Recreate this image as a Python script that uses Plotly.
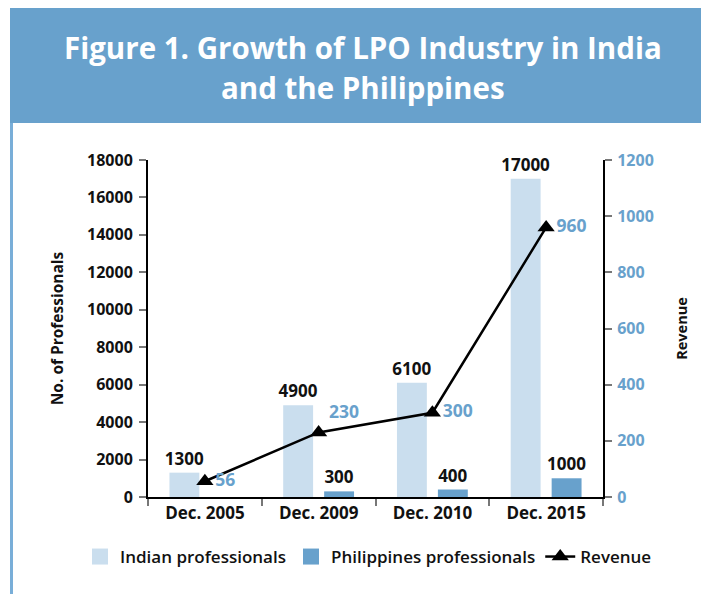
import plotly.graph_objects as go

categories = ["Dec. 2005", "Dec. 2009", "Dec. 2010", "Dec. 2015"]
indian = [1300, 4900, 6100, 17000]
philippines = [None, 300, 400, 1000]
revenue = [56, 230, 300, 960]
left_ticks = [0, 2000, 4000, 6000, 8000, 10000, 12000, 14000, 16000, 18000]
right_ticks = [0, 200, 400, 600, 800, 1000, 1200]

BLUE = "#68a1cc"
LIGHT = "#cadeee"
FONT = "Open Sans"

# page offset (browser body margin)
OFF = 8
W, H = 709 - OFF, 594 - OFF
# plot area in page px
L, R, T, B = 148, 603, 160, 497

def px(x):
    return (x - L) / (R - L)

def py(y):
    return (B - y) / (B - T)

bar_font = dict(family=FONT, size=17, color="#111111", weight="bold")

fig = go.Figure()
fig.add_trace(go.Bar(
    x=categories, y=indian, name="Indian professionals", showlegend=False,
    marker=dict(color=LIGHT, line=dict(width=0)),
    text=[str(v) for v in indian], textposition="outside", constraintext="none",
    textfont=bar_font, cliponaxis=False,
))
fig.add_trace(go.Bar(
    x=categories, y=philippines, name="Philippines professionals", showlegend=False,
    marker=dict(color=BLUE, line=dict(width=0)),
    text=["" if v is None else str(v) for v in philippines], textposition="outside",
    constraintext="none", textfont=bar_font, cliponaxis=False,
))
# legend entries for the bars (square swatches)
for nm, col in [("Indian professionals", LIGHT), ("Philippines professionals", BLUE)]:
    fig.add_trace(go.Scatter(
        x=[None], y=[None], name=nm, mode="markers",
        marker=dict(symbol="square", size=20, color=col),
        showlegend=True, hoverinfo="skip",
    ))
fig.add_trace(go.Scatter(
    x=categories, y=revenue, name="Revenue", yaxis="y2",
    mode="lines+markers+text",
    line=dict(color="black", width=2.5),
    marker=dict(symbol="triangle-up", size=15, color="black"),
    text=[str(v) for v in revenue],
    textposition=["middle right", "top right", "middle right", "middle right"],
    textfont=dict(family=FONT, size=17.5, color=BLUE, weight="bold"),
    cliponaxis=False,
))

shapes = [
    dict(type="rect", xref="paper", yref="paper",
         x0=px(10), x1=px(720), y0=py(123), y1=py(8),
         fillcolor=BLUE, line=dict(width=0), layer="below"),
    dict(type="line", xref="paper", yref="paper",
         x0=px(11.5), x1=px(11.5), y0=py(123), y1=py(600),
         line=dict(color="#79aed8", width=3)),
]

title_font = dict(family=FONT, size=29.5, color="white", weight="bold")
annotations = [
    dict(text="Figure 1. Growth of LPO Industry in India",
         xref="paper", yref="paper", x=px(363), y=py(47), xanchor="center", yanchor="middle",
         showarrow=False, font=title_font),
    dict(text="and the Philippines",
         xref="paper", yref="paper", x=px(363), y=py(88), xanchor="center", yanchor="middle",
         showarrow=False, font=title_font),
]

tick_common = dict(ticks="outside", ticklen=7, tickcolor="#777777", tickwidth=1.5,
                   showline=True, linecolor="black", linewidth=2,
                   showgrid=False, zeroline=False)

fig.update_layout(
    width=W, height=H,
    margin=dict(l=L - OFF, r=W - (R - OFF), t=T - OFF, b=H - (B - OFF), autoexpand=False),
    paper_bgcolor="white", plot_bgcolor="white",
    barmode="group", bargap=0.28, bargroupgap=0.27,
    font=dict(family=FONT, size=15, color="#111111"),
    shapes=shapes, annotations=annotations,
    showlegend=True,
    legend=dict(orientation="h", x=px(80), xanchor="left", y=py(557), yanchor="middle",
                font=dict(family=FONT, size=17, color="#111111", weight=600),
                itemwidth=30, bgcolor="rgba(0,0,0,0)", traceorder="normal"),
    xaxis=dict(
        type="category", tickson="boundaries",
        tickfont=dict(family=FONT, size=17, color="#111111", weight="bold"),
        **tick_common,
    ),
    yaxis=dict(
        range=[0, 18000], tickvals=left_ticks, ticktext=[str(v) for v in left_ticks],
        tickfont=dict(family=FONT, size=16, color="#111111", weight="bold"),
        ticklabelstandoff=3,
        title=dict(text="No. of Professionals", standoff=20,
                   font=dict(family=FONT, size=15.5, color="#111111", weight="bold")),
        **tick_common,
    ),
    yaxis2=dict(
        range=[0, 1200], tickvals=right_ticks, ticktext=[str(v) for v in right_ticks],
        overlaying="y", side="right",
        tickfont=dict(family=FONT, size=16, color=BLUE, weight="bold"),
        ticklabelstandoff=2,
        title=dict(text="Revenue", standoff=24,
                   font=dict(family=FONT, size=14.5, color="#111111", weight="bold")),
        **tick_common,
    ),
)

fig.write_html("out.html")
